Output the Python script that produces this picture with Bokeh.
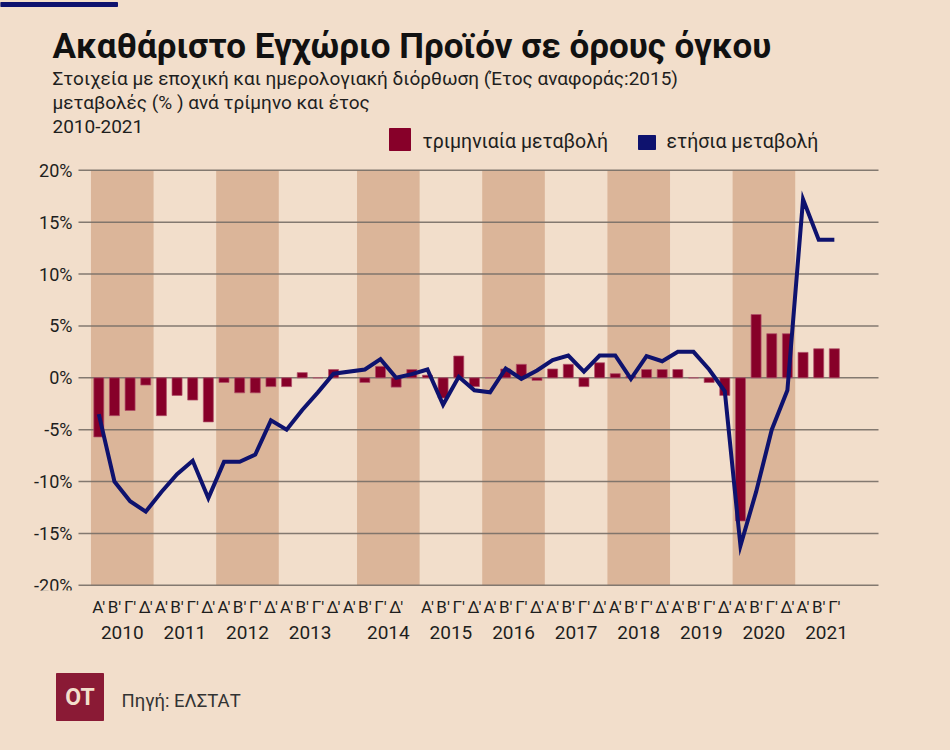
from bokeh.plotting import figure
from bokeh.layouts import column
from bokeh.models import Range1d, FixedTicker, LinearAxis
from bokeh.core.properties import value
from bokeh.embed import file_html
from bokeh.resources import INLINE

# ---------------- data ----------------
years = list(range(2010, 2022))
quarter_names = ["Α'", "Β'", "Γ'", "Δ'"]

# quarterly change (%), 2010 Α' ... 2021 Γ'
qoq = [
    -5.7, -3.65, -3.15, -0.7,    # 2010
    -3.65, -1.7, -2.15, -4.25,   # 2011
    -0.45, -1.45, -1.45, -0.85,  # 2012
    -0.85, 0.5, 0.0, 0.8,        # 2013
    -0.45, 1.1, -0.9, 0.8,       # 2014
    0.25, -1.95, 2.1, -0.85,     # 2015
    0.0, 0.85, 1.3, -0.25,       # 2016
    0.85, 1.3, -0.85, 1.45,      # 2017
    0.4, 0.15, 0.8, 0.8,         # 2018
    0.8, 0.0, -0.45, -1.7,       # 2019
    -13.8, 6.1, 4.25, 4.25,      # 2020
    2.45, 2.8, 2.8,              # 2021
]

# annual change (%)
yoy = [
    -3.5, -10.0, -11.9, -12.9,   # 2010
    -11.0, -9.3, -8.0, -11.6,    # 2011
    -8.1, -8.1, -7.4, -4.1,      # 2012
    -5.0, -3.1, -1.4, 0.4,       # 2013
    0.8, 1.8, 0.0, 0.35,         # 2014
    0.8, -2.6, 0.1, -1.2,        # 2015
    -1.4, 0.9, -0.1, 0.7,        # 2016
    1.7, 2.15, 0.6, 2.15,        # 2017
    2.15, -0.1, 2.1, 1.6,        # 2018
    2.5, 2.5, 0.8, -1.3,         # 2019
    -16.2, -11.0, -5.0, -1.2,    # 2020
    17.2, 13.3, 13.3,            # 2021
]

y_ticks = [-20, -15, -10, -5, 0, 5, 10, 15, 20]

title_text = "Ακαθάριστο Εγχώριο Προϊόν σε όρους όγκου"
subtitle_lines = [
    "Στοιχεία με εποχική και ημερολογιακή διόρθωση (Έτος αναφοράς:2015)",
    "μεταβολές (% ) ανά τρίμηνο και έτος",
    "2010-2021",
]
legend_labels = ["τριμηνιαία μεταβολή", "ετήσια μεταβολή"]
source_text = "Πηγή: ΕΛΣΤΑΤ"
logo_text = "OT"

# ---------------- styles ----------------
BG = "#F2DECB"
BAND = "#DBB599"
BAR = "#870029"
NAVY = "#0E126E"
LOGO = "#8A1A35"
TXT = "#1E1E1E"
GRID = "#776e66"
FONT = "Roboto"

# ---------------- layout constants (pixels) ----------------
W = 950
HDR_H, MAIN_H, FTR_H = 155, 500, 95
FIRST_PX = 98.3      # centre of the first quarter slot
SLOT_PX = 15.65      # width of one quarter slot
PLOT_L, PLOT_R = 78, 878
ZERO_PX = 222.3      # 0% line, measured from the top of the main panel
PCT_PX = 10.375      # pixels per 1%
FRAME_H = 435

# one slot per quarter; the bars leave an empty slot before 2014,
# the quarter labels leave it before 2015
n = len(qoq)
q_year = [years[i // 4] for i in range(n)]
q_label = [quarter_names[i % 4] for i in range(n)]
BAR_GAP_YEAR, LABEL_GAP_YEAR = 2014, 2015
xpos = [i + (1 if q_year[i] >= BAR_GAP_YEAR else 0) for i in range(n)]
label_pos = [i + (1 if q_year[i] >= LABEL_GAP_YEAR else 0) for i in range(n)]

year_first = {}
for xp, yr in zip(xpos, q_year):
    year_first.setdefault(yr, xp)
year_centers = [year_first[yr] + 1.5 for yr in years]


def px_to_slot(px):
    return (px - FIRST_PX) / SLOT_PX


def style_panel(fig):
    fig.background_fill_color = None
    fig.border_fill_color = BG
    fig.outline_line_color = None


# ---------------- header ----------------
hdr = figure(width=W, height=HDR_H, x_range=Range1d(0, W), y_range=Range1d(HDR_H, 0),
             toolbar_location=None, output_backend="svg", min_border=0,
             x_axis_type=None, y_axis_type=None, title=None)
style_panel(hdr)

hdr.quad(left=[0], right=[117], top=[2], bottom=[6], color=NAVY)
hdr.text(x=[52], y=[46], text=[title_text], text_font=value(FONT), text_font_style="bold",
         text_font_size="35px", text_color="#111111", text_baseline="alphabetic")
hdr.text(x=[52, 52, 52], y=[78, 102, 126], text=subtitle_lines, text_font=value(FONT),
         text_font_size="19px", text_color=TXT, text_baseline="middle")
hdr.quad(left=[389], right=[410], top=[128], bottom=[150], color=BAR)
hdr.quad(left=[638], right=[655], top=[135], bottom=[149], color=NAVY)
hdr.text(x=[422, 666], y=[141, 141], text=legend_labels, text_font=value(FONT),
         text_font_size="19.5px", text_color=TXT, text_baseline="middle")

# ---------------- main chart ----------------
p = figure(width=W, height=MAIN_H,
           x_range=Range1d(px_to_slot(0), px_to_slot(W)),
           y_range=Range1d((ZERO_PX - FRAME_H) / PCT_PX, ZERO_PX / PCT_PX),
           toolbar_location=None, output_backend="svg", title=None, y_axis_type=None,
           min_border_left=0, min_border_right=0, min_border_top=0,
           min_border_bottom=MAIN_H - FRAME_H)
style_panel(p)
p.xgrid.visible = False

# shaded even years
band_left, band_right = [], []
for yr in years:
    if yr % 2 == 0:
        band_left.append(year_first[yr] - 0.5)
        band_right.append(year_first[yr] + 3.5)
p.quad(left=band_left, right=band_right, top=max(y_ticks), bottom=min(y_ticks),
       fill_color=BAND, line_color=None, level="image")

# horizontal grid lines
gx0, gx1 = px_to_slot(PLOT_L), px_to_slot(PLOT_R)
p.segment(x0=[gx0] * len(y_ticks), x1=[gx1] * len(y_ticks), y0=y_ticks, y1=y_ticks,
          line_color=GRID, line_width=1.5, line_alpha=0.9, level="underlay")

# y tick labels
p.text(x=[gx0] * len(y_ticks), y=y_ticks, text=[f"{t}%" for t in y_ticks],
       x_offset=-6, text_align="right", text_baseline="middle",
       text_font=value(FONT), text_font_size="18px", text_color=TXT)

p.vbar(x=xpos, top=qoq, bottom=0, width=0.64, fill_color=BAR, line_color="#b0506a",
       line_width=1, line_alpha=0.7)
p.line(xpos, yoy, line_color=NAVY, line_width=4, line_join="miter")

# quarter axis
p.xaxis.ticker = FixedTicker(ticks=label_pos)
p.xaxis.major_label_overrides = {lp: lab for lp, lab in zip(label_pos, q_label)}
p.xaxis.axis_line_color = None
p.xaxis.major_tick_line_color = None
p.xaxis.minor_tick_line_color = None
p.xaxis.major_label_standoff = 0
p.xaxis.major_label_text_font = FONT
p.xaxis.major_label_text_font_size = "17px"
p.xaxis.major_label_text_color = TXT

# year axis
yax = LinearAxis(ticker=FixedTicker(ticks=year_centers),
                 major_label_overrides={c: str(yr) for c, yr in zip(year_centers, years)})
yax.axis_line_color = None
yax.major_tick_line_color = None
yax.minor_tick_line_color = None
yax.major_label_standoff = 0
yax.major_label_text_font = FONT
yax.major_label_text_font_size = "19px"
yax.major_label_text_color = TXT
p.add_layout(yax, "below")

# ---------------- footer ----------------
ftr = figure(width=W, height=FTR_H, x_range=Range1d(0, W), y_range=Range1d(FTR_H, 0),
             toolbar_location=None, output_backend="svg", min_border=0,
             x_axis_type=None, y_axis_type=None, title=None)
style_panel(ftr)
ftr.quad(left=[56], right=[103], top=[18], bottom=[65], color=LOGO)
ftr.text(x=[79.5], y=[42], text=[logo_text], text_font=value(FONT), text_font_style="bold",
         text_font_size="23px", text_color=BG, text_align="center", text_baseline="middle")
ftr.text(x=[121], y=[45], text=[source_text], text_font=value(FONT),
         text_font_size="18.5px", text_color="#333333", text_baseline="middle")

layout = column(hdr, p, ftr, spacing=0, styles={"background-color": BG})
open("out.html", "w").write(file_html(layout, INLINE))
